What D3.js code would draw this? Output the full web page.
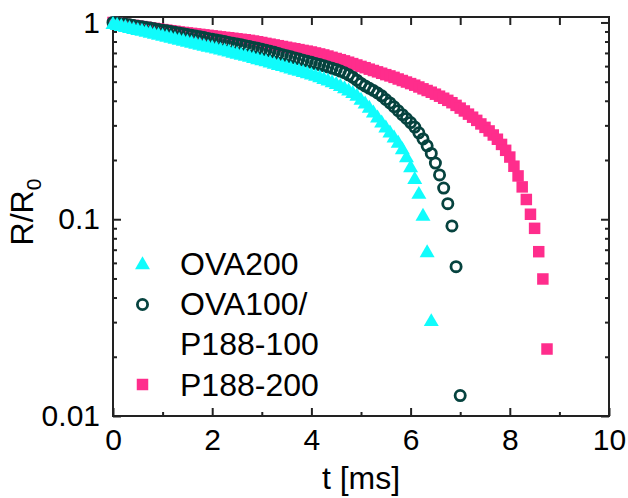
<!DOCTYPE html>
<html>
<head>
<meta charset="utf-8">
<script src="https://cdn.jsdelivr.net/npm/d3@7"></script>
<style>
body { margin: 0; background: #fff; }
text { font-family: "Liberation Sans", Arial, sans-serif; fill: #000; }
</style>
</head>
<body>
<svg id="chart" width="628" height="498"></svg>
<script>
// frames were recorded every 1/12 ms
var frameMs = 1 / 12;

// R/R0 per frame
var ova200 = [1.000,0.989,0.977,0.966,0.955,0.944,0.933,0.923,0.912,0.902,
  0.891,0.881,0.871,0.861,0.851,0.841,0.832,0.822,0.813,0.804,
  0.794,0.785,0.776,0.767,0.759,0.750,0.741,0.733,0.724,0.715,
  0.706,0.698,0.689,0.681,0.671,0.662,0.655,0.646,0.637,0.628,
  0.619,0.611,0.603,0.594,0.586,0.578,0.570,0.562,0.553,0.545,
  0.536,0.526,0.516,0.506,0.495,0.484,0.472,0.459,0.446,0.432,
  0.412,0.394,0.375,0.355,0.335,0.316,0.298,0.281,0.265,0.249,
  0.231,0.210,0.187,0.163,0.137,0.106,0.0692,0.0309];

var ova100 = [1.000,0.993,0.986,0.979,0.973,0.964,0.957,0.951,0.944,0.936,
  0.929,0.920,0.914,0.908,0.900,0.891,0.885,0.877,0.869,0.861,
  0.853,0.845,0.838,0.830,0.822,0.815,0.807,0.800,0.792,0.785,
  0.778,0.771,0.762,0.755,0.746,0.740,0.731,0.723,0.714,0.705,
  0.695,0.686,0.678,0.669,0.660,0.652,0.643,0.635,0.627,0.618,
  0.611,0.603,0.594,0.586,0.577,0.566,0.555,0.542,0.527,0.509,
  0.490,0.476,0.463,0.451,0.438,0.424,0.406,0.390,0.373,0.356,
  0.340,0.325,0.310,0.294,0.275,0.256,0.236,0.216,0.193,0.168,
  0.144,0.120,0.0925,0.0574,0.0127];

var p188 = [1.000,0.993,0.986,0.979,0.973,0.966,0.959,0.953,0.946,0.940,
  0.933,0.927,0.920,0.914,0.908,0.902,0.895,0.890,0.885,0.880,
  0.875,0.870,0.865,0.860,0.855,0.850,0.845,0.840,0.836,0.831,
  0.826,0.821,0.817,0.811,0.805,0.798,0.791,0.783,0.776,0.769,
  0.762,0.755,0.748,0.741,0.735,0.728,0.721,0.715,0.708,0.700,
  0.692,0.684,0.675,0.665,0.656,0.647,0.638,0.628,0.618,0.608,
  0.598,0.589,0.579,0.570,0.561,0.552,0.543,0.535,0.526,0.516,
  0.507,0.498,0.489,0.480,0.470,0.460,0.451,0.442,0.432,0.422,
  0.412,0.402,0.391,0.379,0.367,0.355,0.342,0.330,0.318,0.305,
  0.293,0.281,0.268,0.255,0.240,0.224,0.207,0.186,0.166,0.146,
  0.126,0.106,0.0899,0.0684,0.0497,0.0219];

var xMajor = [0, 2, 4, 6, 8, 10];
var xMinor = [1, 3, 5, 7, 9];
var xTop = [1, 2, 3, 4, 5, 6, 7, 8, 9];
var yMajor = [0.01, 0.1, 1];
var yTickLabels = ["0.01", "0.1", "1"];
var yMinor = [0.02, 0.03, 0.04, 0.05, 0.06, 0.07, 0.08, 0.09,
  0.2, 0.3, 0.4, 0.5, 0.6, 0.7, 0.8, 0.9];

var cyan = "#10fcfc", teal = "#06433f", pink = "#ff2d8c", ink = "#222";

var margin = { top: 17, right: 19, bottom: 82, left: 113 },
    width = 628 - margin.left - margin.right,
    height = 498 - margin.top - margin.bottom;

var svg = d3.select("#chart")
  .append("g")
  .attr("transform", "translate(" + margin.left + "," + margin.top + ")");

var x = d3.scaleLinear().domain([0, 10]).range([0, width]);
var y = d3.scaleLog().domain([0.01, 1.066]).range([height, 0]);

function styleAxis(g) {
  g.select(".domain").remove();
  g.selectAll("line").attr("stroke", ink).attr("stroke-width", 2);
  g.selectAll("text").style("font-size", "30px").attr("fill", "#000")
    .style("font-family", "'Liberation Sans', Arial, sans-serif");
}

// bottom
svg.append("g").attr("transform", "translate(0," + height + ")")
  .call(d3.axisBottom(x).tickValues(xMajor).tickSize(-8).tickPadding(13).tickFormat(d3.format("d")))
  .call(styleAxis);
svg.append("g").attr("transform", "translate(0," + height + ")")
  .call(d3.axisBottom(x).tickValues(xMinor).tickSize(-4).tickFormat(""))
  .call(styleAxis);
// top
svg.append("g")
  .call(d3.axisTop(x).tickValues(xTop).tickSize(-8).tickFormat(""))
  .call(styleAxis);
// left
svg.append("g")
  .call(d3.axisLeft(y).tickValues(yMajor).tickSize(-8).tickPadding(13)
    .tickFormat(function (d, i) { return yTickLabels[i]; }))
  .call(styleAxis);
svg.append("g")
  .call(d3.axisLeft(y).tickValues(yMinor).tickSize(-4).tickFormat(""))
  .call(styleAxis);
// right
svg.append("g").attr("transform", "translate(" + width + ",0)")
  .call(d3.axisRight(y).tickValues(yMajor).tickSize(-8).tickFormat(""))
  .call(styleAxis);
svg.append("g").attr("transform", "translate(" + width + ",0)")
  .call(d3.axisRight(y).tickValues(yMinor).tickSize(-4).tickFormat(""))
  .call(styleAxis);

svg.append("rect")
  .attr("width", width).attr("height", height)
  .attr("fill", "none").attr("stroke", ink).attr("stroke-width", 2);

function toPoints(arr) {
  return arr.map(function (v, i) { return { t: i * frameMs, v: v }; });
}

var plot = svg.append("g");

// P188-200 squares
plot.selectAll(".sq")
  .data(toPoints(p188))
  .enter().append("path")
  .attr("class", "sq")
  .attr("d", d3.symbol().type(d3.symbolSquare).size(132))
  .attr("transform", function (d) { return "translate(" + x(d.t) + "," + y(d.v) + ")"; })
  .attr("fill", pink);

// OVA100/P188-100 open circles
plot.selectAll(".ring")
  .data(toPoints(ova100))
  .enter().append("circle")
  .attr("class", "ring")
  .attr("cx", function (d) { return x(d.t); })
  .attr("cy", function (d) { return y(d.v); })
  .attr("r", 5.1)
  .attr("fill", "none")
  .attr("stroke", teal)
  .attr("stroke-width", 2.8);

// OVA200 triangles
plot.selectAll(".tri")
  .data(toPoints(ova200))
  .enter().append("path")
  .attr("class", "tri")
  .attr("d", d3.symbol().type(d3.symbolTriangle).size(97))
  .attr("transform", function (d) { return "translate(" + x(d.t) + "," + (y(d.v) + 2.2) + ")"; })
  .attr("fill", cyan);

// axis titles
svg.append("text")
  .attr("x", width / 2).attr("y", 472)
  .attr("text-anchor", "middle")
  .style("font-size", "32px")
  .text("t [ms]");

var yt = svg.append("text")
  .attr("transform", "translate(" + (33 - margin.left) + "," + (212 - margin.top) + ") rotate(-90)")
  .attr("text-anchor", "middle")
  .style("font-size", "32px");
yt.append("tspan").text("R/R");
yt.append("tspan").attr("dy", 8).style("font-size", "21px").text("0");

// legend
var lg = svg.append("g").attr("transform", "translate(" + (142.5 - margin.left) + "," + (-margin.top) + ")");
lg.append("path").attr("d", d3.symbol().type(d3.symbolTriangle).size(97)())
  .attr("transform", "translate(0,265)").attr("fill", cyan);
lg.append("circle").attr("cx", 0).attr("cy", 304.5).attr("r", 5.1)
  .attr("fill", "none").attr("stroke", teal).attr("stroke-width", 2.8);
lg.append("path").attr("d", d3.symbol().type(d3.symbolSquare).size(132)())
  .attr("transform", "translate(0,384.5)").attr("fill", pink);

var legendText = [["OVA200", 275], ["OVA100/", 315], ["P188-100", 355], ["P188-200", 396]];
lg.selectAll(".lt").data(legendText).enter().append("text")
  .attr("class", "lt")
  .attr("x", 37.5).attr("y", function (d) { return d[1]; })
  .style("font-size", "32px")
  .text(function (d) { return d[0]; });
</script>
</body>
</html>
